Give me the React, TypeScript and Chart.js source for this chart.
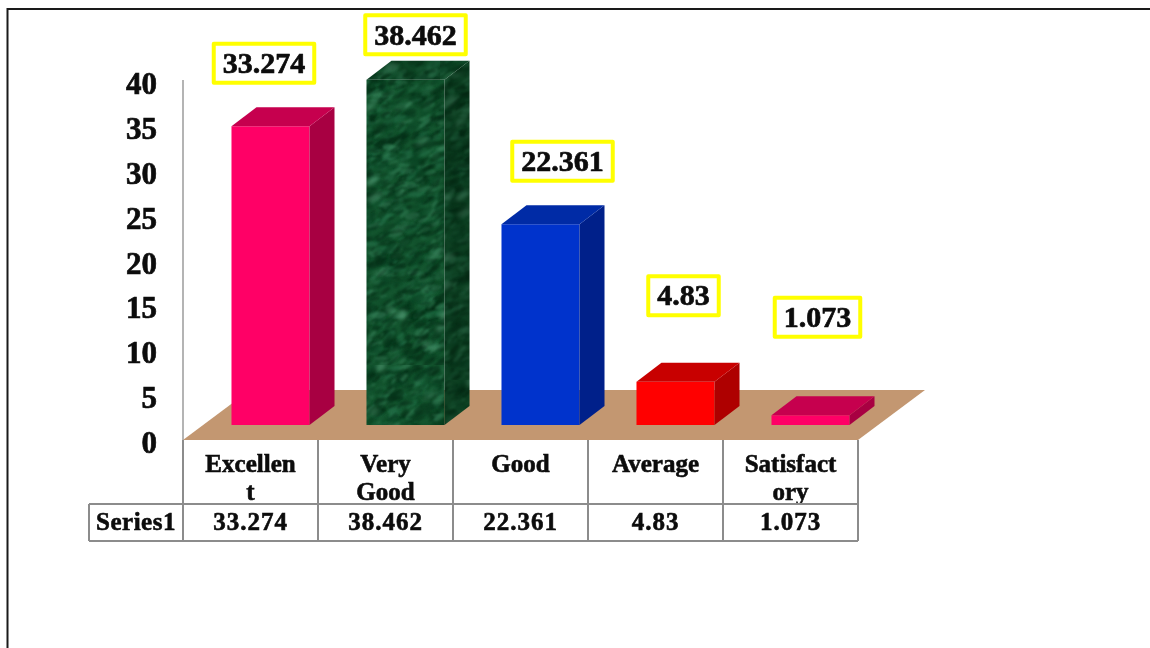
import React, { useEffect, useRef } from "react";
import { Chart, registerables } from "chart.js";

Chart.register(...registerables);

const categories = [["Excellen", "t"], ["Very", "Good"], ["Good"], ["Average"], ["Satisfact", "ory"]];
const seriesName = "Series1";
const values = [33.274, 38.462, 22.361, 4.83, 1.073];
const valueTexts = ["33.274", "38.462", "22.361", "4.83", "1.073"];
const yTicks = [0, 5, 10, 15, 20, 25, 30, 35, 40];

const FONT = '"Liberation Serif"';
const TEXT = "#0c0c0c";
const BAR_SHIFT = { x: 20, y: -15 };
const DEPTH = { x: 25, y: -19 };
const FLOOR = { x: 67, y: -50 };
const labelOffsets = [
  { x: -6.5, y: -63 },
  { x: 10, y: -45 },
  { x: 22, y: -63 },
  { x: 8, y: -86 },
  { x: 7, y: -98 },
];
const frontColors = ["#FF0066", "", "#0033CC", "#FF0000", "#FF0066"];
const sideColors = ["#A80042", "#0D3A22", "#00208A", "#AE0000", "#A80042"];
const topColors = ["#C6004E", "#124A2C", "#002BA6", "#C80000", "#C6004E"];

function marble(dark: number): CanvasPattern | string {
  const c = document.createElement("canvas");
  c.width = 110;
  c.height = 380;
  const g = c.getContext("2d")!;
  g.fillStyle = "#14552f";
  g.fillRect(0, 0, 110, 380);
  let s = 12345;
  const next = () => {
    s = (s * 1103515245 + 12345) & 0x7fffffff;
    return s / 0x7fffffff;
  };
  const tones = ["#07351b", "#237048", "#042c15", "#358058", "#0c4a28", "#052e17"];
  g.filter = "blur(1px)";
  for (let i = 0; i < 2600; i++) {
    const x = next() * 110;
    const y = next() * 380;
    const r = 2 + next() * 6;
    g.fillStyle = tones[Math.floor(next() * tones.length)];
    g.globalAlpha = 0.25 + next() * 0.4;
    g.beginPath();
    g.ellipse(x, y, r, r * (0.2 + next() * 0.3), -0.9 + next() * 0.9, 0, Math.PI * 2);
    g.fill();
  }
  g.filter = "blur(2px)";
  for (let i = 0; i < 30; i++) {
    const x = next() * 110;
    const y = next() * 380;
    g.fillStyle = "#5aa57e";
    g.globalAlpha = 0.35 + next() * 0.3;
    g.beginPath();
    g.ellipse(x, y, 4 + next() * 8, 1.5 + next() * 3, -0.9 + next() * 0.9, 0, Math.PI * 2);
    g.fill();
  }
  g.filter = "none";
  g.globalAlpha = dark;
  g.fillStyle = "#021a0c";
  g.fillRect(0, 0, 110, 380);
  return g.createPattern(c, "repeat")!;
}

const depthPlugin = {
  id: "depth",
  beforeDraw(chart: any) {
    const { ctx } = chart;
    ctx.save();
    ctx.fillStyle = "#fff";
    ctx.fillRect(0, 0, chart.width, chart.height);
    ctx.strokeStyle = "#1a1a1a";
    ctx.lineWidth = 2;
    ctx.beginPath();
    ctx.moveTo(7.5, 648);
    ctx.lineTo(7.5, 9);
    ctx.lineTo(1150, 9);
    ctx.stroke();
    ctx.restore();
  },
  beforeDatasetsDraw(chart: any) {
    const { ctx, scales } = chart;
    const x = scales.x;
    const y0 = scales.y.getPixelForValue(0);
    const n = categories.length;
    const step = (x.right - x.left) / n;
    ctx.save();
    ctx.fillStyle = "#C39771";
    ctx.beginPath();
    ctx.moveTo(x.left, y0);
    ctx.lineTo(x.right, y0);
    ctx.lineTo(x.right + FLOOR.x, y0 + FLOOR.y);
    ctx.lineTo(x.left + FLOOR.x, y0 + FLOOR.y);
    ctx.closePath();
    ctx.fill();
    const rowTop = y0 + 64;
    const rowBottom = y0 + 101;
    ctx.strokeStyle = "#8C8C8C";
    ctx.lineWidth = 2;
    ctx.beginPath();
    for (let i = 0; i <= n; i++) {
      const px = x.left + i * step;
      ctx.moveTo(px, y0);
      ctx.lineTo(px, rowBottom);
    }
    ctx.moveTo(89, rowTop);
    ctx.lineTo(x.right, rowTop);
    ctx.moveTo(89, rowBottom);
    ctx.lineTo(x.right, rowBottom);
    ctx.moveTo(89, rowTop);
    ctx.lineTo(89, rowBottom);
    ctx.stroke();
    ctx.fillStyle = TEXT;
    ctx.strokeStyle = TEXT;
    ctx.lineWidth = 0.6;
    ctx.font = `bold 25px ${FONT}`;
    ctx.textAlign = "center";
    ctx.textBaseline = "middle";
    ctx.letterSpacing = "1px";
    const my = (rowTop + rowBottom) / 2 + 1;
    valueTexts.forEach((t, i) => {
      ctx.fillText(t, x.left + (i + 0.5) * step, my);
      ctx.strokeText(t, x.left + (i + 0.5) * step, my);
    });
    ctx.letterSpacing = "0.5px";
    ctx.fillText(seriesName, (89 + x.left) / 2, my);
    ctx.strokeText(seriesName, (89 + x.left) / 2, my);
    ctx.letterSpacing = "0px";
    ctx.restore();
    ctx.save();
    ctx.translate(BAR_SHIFT.x, BAR_SHIFT.y);
  },
  afterDatasetsDraw(chart: any) {
    const { ctx } = chart;
    ctx.restore();
    const meta = chart.getDatasetMeta(0);
    const patSide = marble(0.35);
    const patTop = marble(0.2);
    meta.data.forEach((el: any, i: number) => {
      const l = el.x - el.width / 2 + BAR_SHIFT.x;
      const r = el.x + el.width / 2 + BAR_SHIFT.x;
      const t = el.y + BAR_SHIFT.y;
      const b = el.base + BAR_SHIFT.y;
      ctx.save();
      ctx.fillStyle = i === 1 ? patSide : sideColors[i];
      ctx.beginPath();
      ctx.moveTo(r, t);
      ctx.lineTo(r + DEPTH.x, t + DEPTH.y);
      ctx.lineTo(r + DEPTH.x, b + DEPTH.y);
      ctx.lineTo(r, b);
      ctx.closePath();
      ctx.fill();
      ctx.fillStyle = i === 1 ? patTop : topColors[i];
      ctx.beginPath();
      ctx.moveTo(l, t);
      ctx.lineTo(l + DEPTH.x, t + DEPTH.y);
      ctx.lineTo(r + DEPTH.x, t + DEPTH.y);
      ctx.lineTo(r, t);
      ctx.closePath();
      ctx.fill();
      ctx.restore();
    });
    ctx.save();
    ctx.font = `bold 30px ${FONT}`;
    ctx.textAlign = "center";
    ctx.textBaseline = "middle";
    meta.data.forEach((el: any, i: number) => {
      const cx = el.x + BAR_SHIFT.x + labelOffsets[i].x;
      const cy = el.y + BAR_SHIFT.y + labelOffsets[i].y;
      const w = ctx.measureText(valueTexts[i]).width + 18;
      const h = 39;
      ctx.fillStyle = "#fff";
      ctx.strokeStyle = "#FFFF00";
      ctx.lineWidth = 4;
      ctx.lineJoin = "round";
      ctx.fillRect(cx - w / 2, cy - h / 2, w, h);
      ctx.strokeRect(cx - w / 2, cy - h / 2, w, h);
      ctx.fillStyle = TEXT;
      ctx.strokeStyle = TEXT;
      ctx.lineWidth = 0.7;
      ctx.fillText(valueTexts[i], cx, cy + 2);
      ctx.strokeText(valueTexts[i], cx, cy + 2);
    });
    ctx.restore();
  },
};

export default function App() {
  const ref = useRef<HTMLCanvasElement>(null);
  useEffect(() => {
    const colors: any[] = frontColors.map((c) => c);
    colors[1] = marble(0);
    const chart = new Chart(ref.current!, {
      type: "bar",
      data: {
        labels: categories,
        datasets: [
          {
            label: seriesName,
            data: values,
            backgroundColor: colors,
            borderWidth: 0,
            barPercentage: 0.578,
            categoryPercentage: 1,
          },
        ],
      },
      options: {
        animation: false,
        responsive: false,
        devicePixelRatio: 1,
        layout: { padding: { left: 0, right: 292, top: 81, bottom: 144 } },
        plugins: { legend: { display: false }, tooltip: { enabled: false }, title: { display: false } },
        scales: {
          x: {
            offset: true,
            grid: { display: false },
            border: { display: false },
            afterFit(s: any) {
              s.height = 64;
            },
            ticks: {
              autoSkip: false,
              maxRotation: 0,
              minRotation: 0,
              padding: 4,
              color: TEXT,
              textStrokeColor: TEXT,
              textStrokeWidth: 0.6,
              font: { family: FONT, size: 25, weight: "bold", lineHeight: 1.1 },
            },
          },
          y: {
            min: 0,
            max: 40,
            grid: { display: false, drawTicks: false },
            border: { display: true, color: "#B4B4B4", width: 2 },
            afterFit(s: any) {
              s.width = 183;
            },
            afterBuildTicks(s: any) {
              s.ticks = yTicks.map((value) => ({ value }));
            },
            ticks: {
              padding: 26,
              labelOffset: 5,
              color: TEXT,
              textStrokeColor: TEXT,
              textStrokeWidth: 0.7,
              font: { family: FONT, size: 31, weight: "bold" },
            },
          },
        },
      },
      plugins: [depthPlugin],
    } as any);
    return () => chart.destroy();
  }, []);
  return (
    <canvas
      ref={ref}
      width={1150}
      height={648}
      style={{ position: "fixed", left: 0, top: 0, width: 1150, height: 648, display: "block" }}
    />
  );
}
